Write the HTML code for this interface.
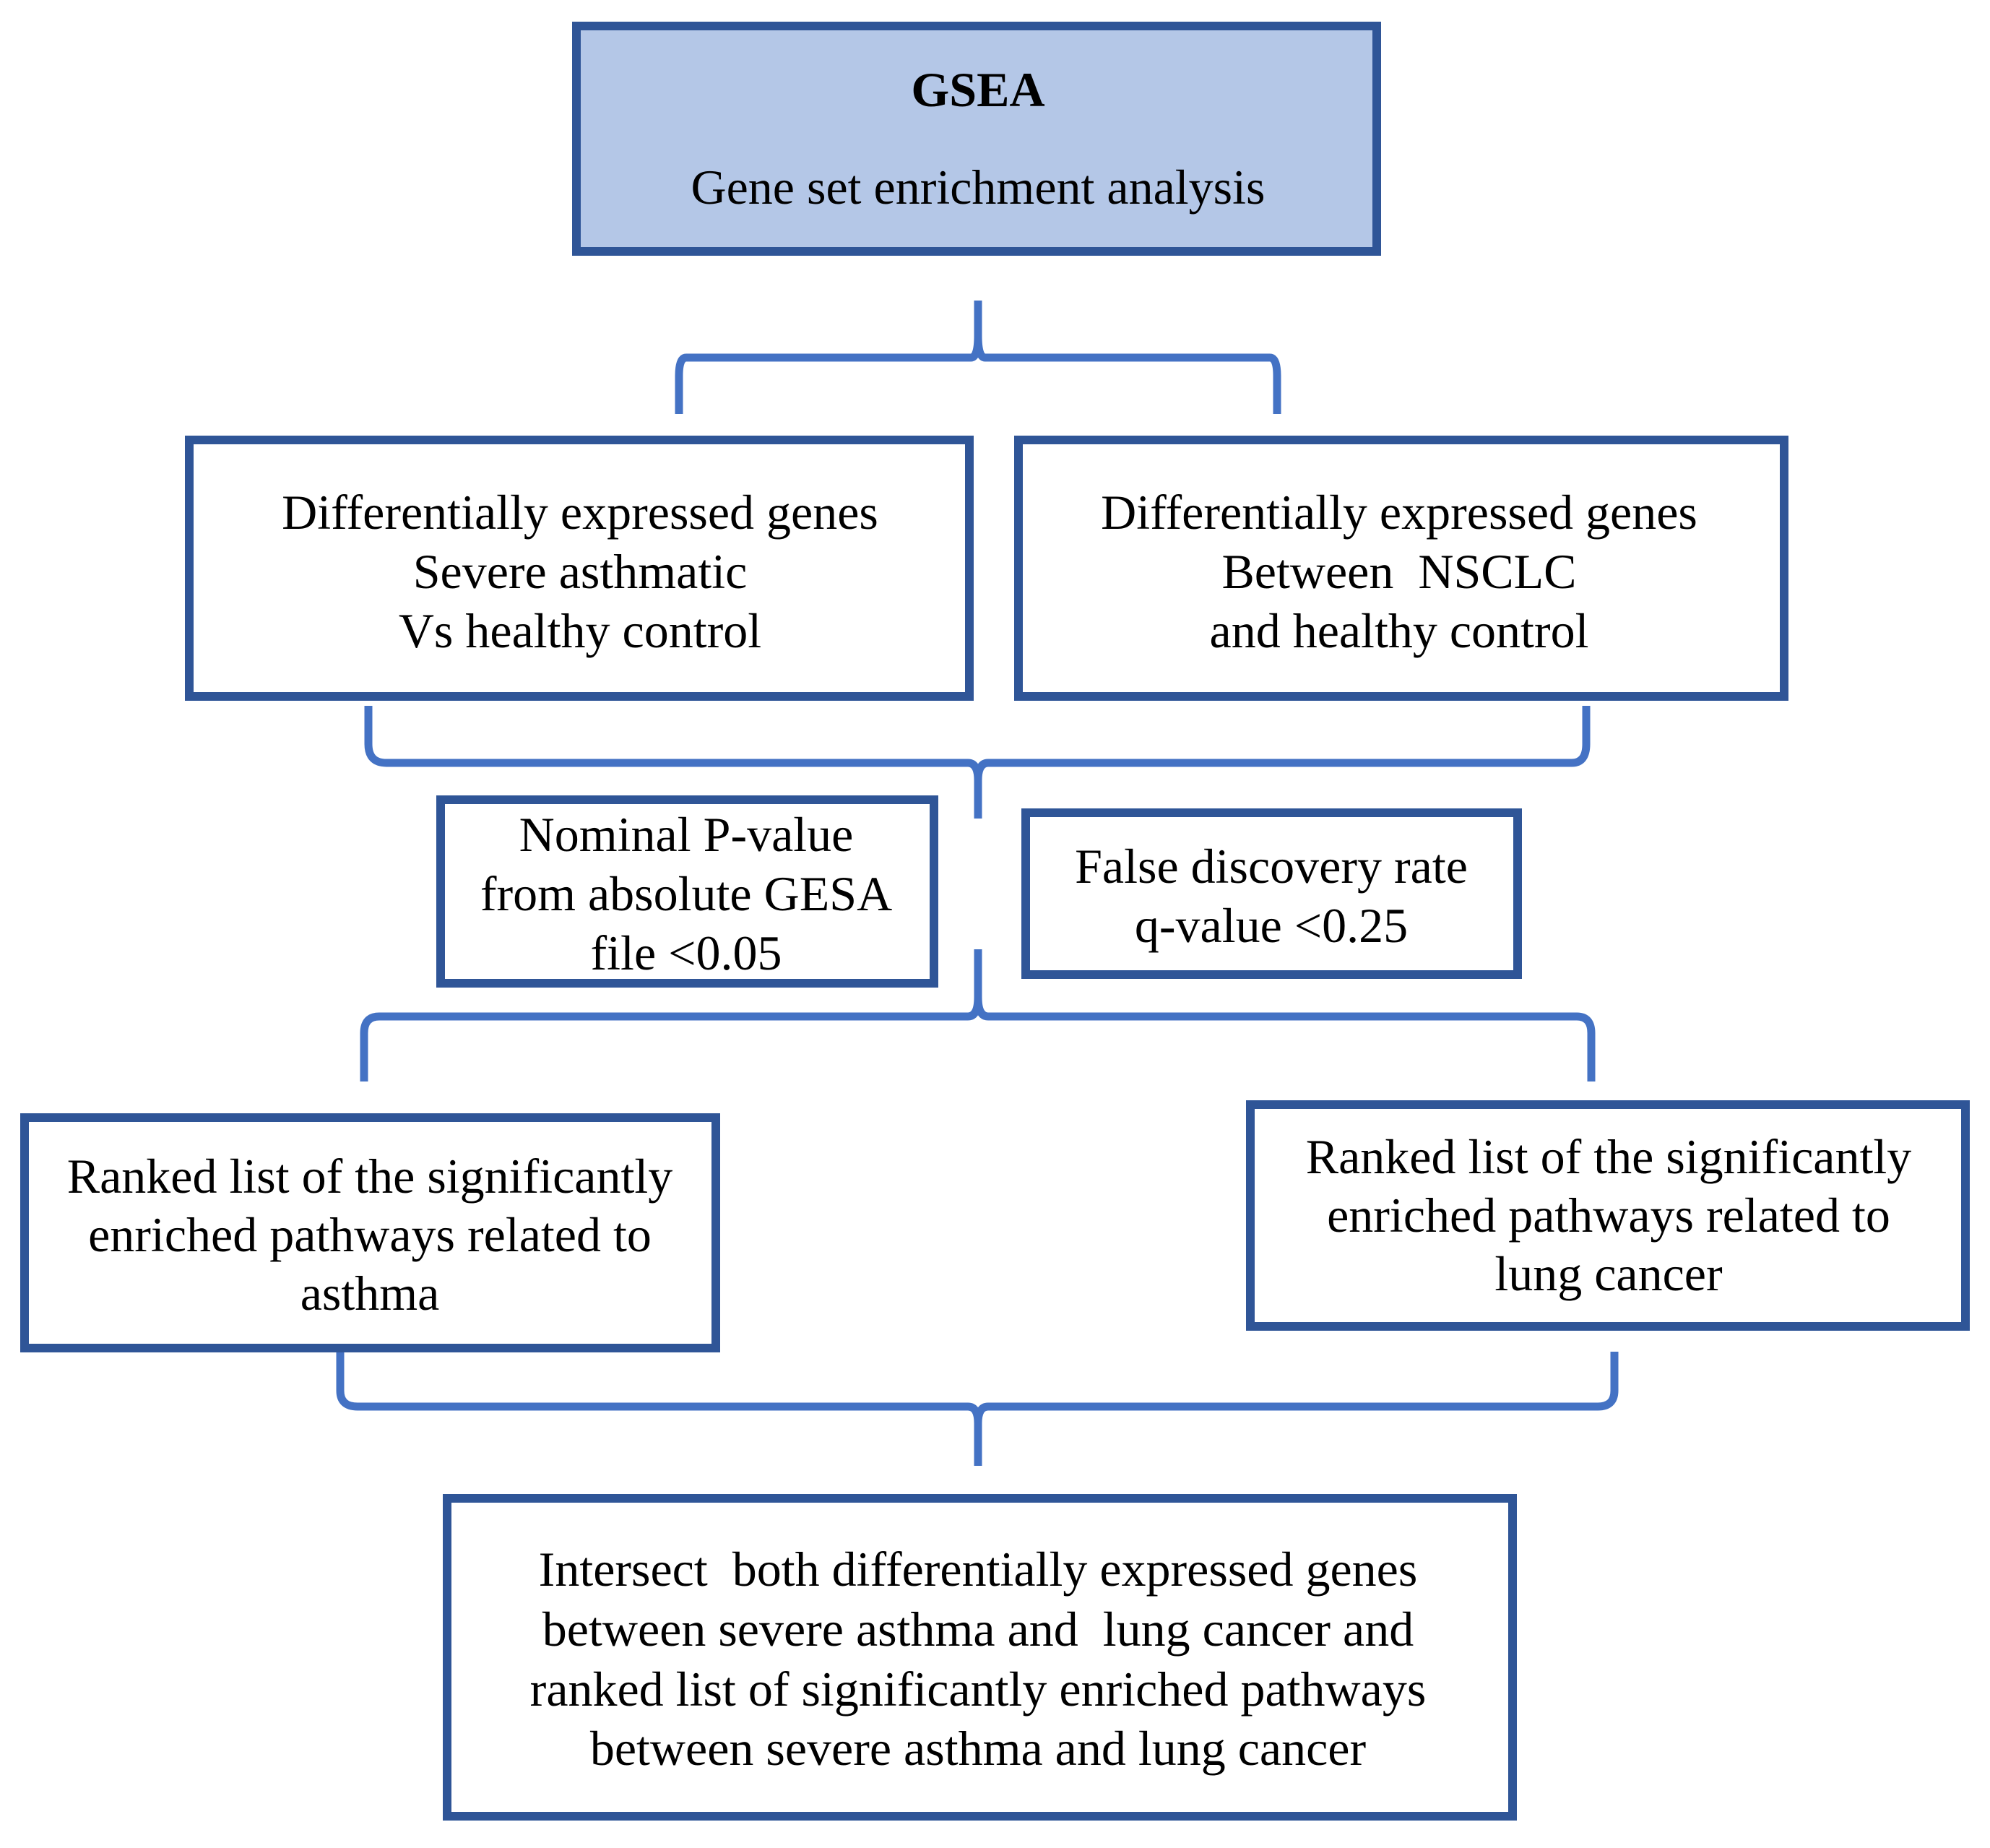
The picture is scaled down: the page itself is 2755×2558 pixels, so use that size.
<!DOCTYPE html>
<html><head><meta charset="utf-8"><style>
html,body{margin:0;padding:0;background:#fff}
svg{display:block}
text{font-family:"Liberation Serif",serif;font-size:68px;fill:#000;text-anchor:middle;white-space:pre}
</style></head><body>
<svg width="2755" height="2558" viewBox="0 0 2755 2558" xmlns="http://www.w3.org/2000/svg">
<g fill="none" stroke="#4472c4" stroke-width="11" stroke-linejoin="round">
<path d="M1354 416 L1354 465 Q1354 495 1344 495 L950 495 Q940 495 940 520 L940 573"/>
<path d="M1354 465 Q1354 495 1364 495 L1758 495 Q1768 495 1768 520 L1768 573"/>
<path d="M510 977 L510 1030 Q510 1056 535 1056 L1340 1056 Q1354 1056 1354 1080 L1354 1133"/>
<path d="M1354 1080 Q1354 1056 1368 1056 L2176 1056 Q2196 1056 2196 1030 L2196 977"/>
<path d="M1354 1314 L1354 1380 Q1354 1407 1340 1407 L525 1407 Q504 1407 504 1430 L504 1497"/>
<path d="M1354 1380 Q1354 1407 1368 1407 L2183 1407 Q2203 1407 2203 1430 L2203 1497"/>
<path d="M471 1871 L471 1925 Q471 1947 495 1947 L1340 1947 Q1354 1947 1354 1970 L1354 2029"/>
<path d="M1354 1970 Q1354 1947 1368 1947 L2212 1947 Q2235 1947 2235 1925 L2235 1871"/>
</g>
<g stroke="#2f5597" stroke-width="12">
<rect x="798" y="36" width="1108" height="312" fill="#b4c7e7"/>
<rect x="262" y="609" width="1080" height="355" fill="#fff"/>
<rect x="1410" y="609" width="1060" height="355" fill="#fff"/>
<rect x="610" y="1107" width="683" height="254" fill="#fff"/>
<rect x="1420" y="1125" width="681" height="224" fill="#fff"/>
<rect x="34" y="1547" width="957" height="319" fill="#fff"/>
<rect x="1731" y="1529" width="990" height="307" fill="#fff"/>
<rect x="619" y="2074" width="1475" height="440" fill="#fff"/>
</g>
<text x="1354" y="147" font-weight="bold">GSEA</text>
<text x="1354" y="282">Gene set enrichment analysis</text>
<text x="803" y="732">Differentially expressed genes</text>
<text x="803" y="814">Severe asthmatic</text>
<text x="803" y="896">Vs healthy control</text>
<text x="1937" y="732">Differentially expressed genes</text>
<text x="1937" y="814">Between  NSCLC</text>
<text x="1937" y="896">and healthy control</text>
<text x="950" y="1178">Nominal P-value</text>
<text x="950" y="1260">from absolute GESA</text>
<text x="950" y="1342">file &lt;0.05</text>
<text x="1760" y="1222">False discovery rate</text>
<text x="1760" y="1304">q-value &lt;0.25</text>
<text x="512" y="1651">Ranked list of the significantly</text>
<text x="512" y="1732">enriched pathways related to</text>
<text x="512" y="1813">asthma</text>
<text x="2227" y="1624">Ranked list of the significantly</text>
<text x="2227" y="1705">enriched pathways related to</text>
<text x="2227" y="1786">lung cancer</text>
<text x="1354" y="2195">Intersect  both differentially expressed genes</text>
<text x="1354" y="2278">between severe asthma and  lung cancer and</text>
<text x="1354" y="2361">ranked list of significantly enriched pathways</text>
<text x="1354" y="2443">between severe asthma and lung cancer</text>
</svg>
</body></html>
